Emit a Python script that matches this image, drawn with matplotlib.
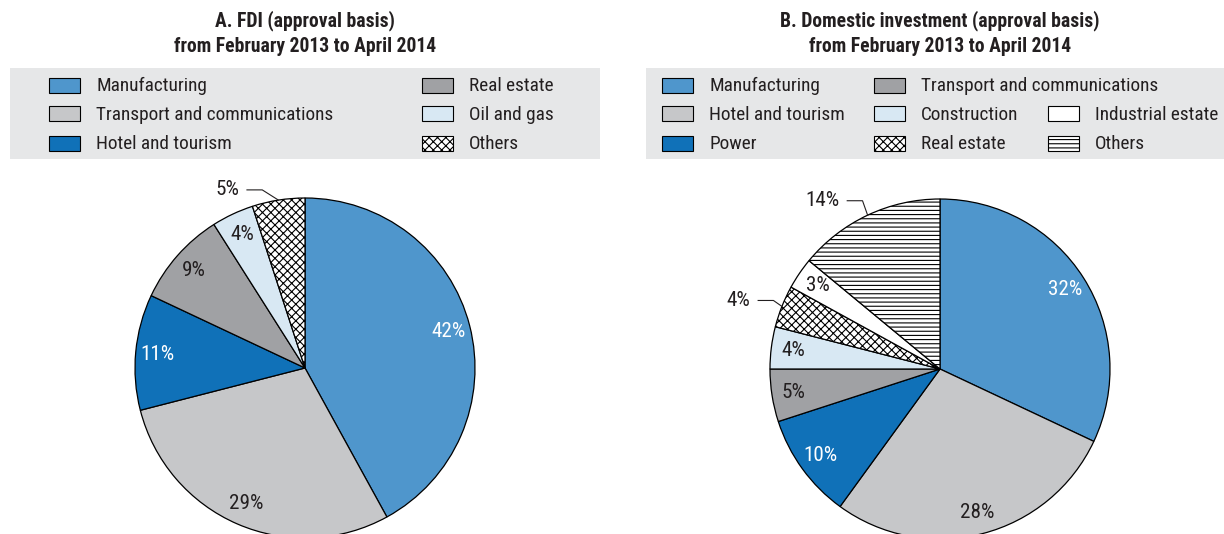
import matplotlib
matplotlib.use("Agg")
import matplotlib.pyplot as plt
import numpy as np
from matplotlib import font_manager
from matplotlib.patches import Rectangle

W, H = 1224, 534
R = 170  # pie radius in pixels
PAD = 1.05
TXT = "#231f20"

# pick a narrow face if one is installed, else fall back to Arial-like Liberation
names = {f.name for f in font_manager.fontManager.ttflist}
stretch = "normal"
if "Liberation Sans Narrow" in names:
    family = "Liberation Sans Narrow"
elif "Roboto Condensed" in names:
    family = "Roboto Condensed"
elif any(f.name == "DejaVu Sans" and "condensed" in str(f.stretch)
         for f in font_manager.fontManager.ttflist):
    family, stretch = "DejaVu Sans", "condensed"
else:
    family = "Liberation Sans"
plt.rcParams["font.family"] = [family, "DejaVu Sans"]
plt.rcParams["font.stretch"] = stretch
plt.rcParams["hatch.linewidth"] = 0.8

# Panel A: FDI
fdi_labels = ["Manufacturing", "Transport and communications", "Hotel and tourism",
              "Real estate", "Oil and gas", "Others"]
fdi_shares = [42, 29, 11, 9, 4, 5]
fdi_colors = ["#4f96cc", "#c6c7c9", "#1071b8", "#a0a1a4", "#d8e8f3", "white"]
fdi_hatches = ["", "", "", "", "", "xxxx"]

# Panel B: domestic investment
dom_labels = ["Manufacturing", "Hotel and tourism", "Power",
              "Transport and communications", "Construction", "Real estate",
              "Industrial estate", "Others"]
dom_shares = [32, 28, 10, 5, 4, 4, 3, 14]
dom_colors = ["#4f96cc", "#c6c7c9", "#1071b8", "#a0a1a4", "#d8e8f3",
              "white", "white", "white"]
dom_hatches = ["", "", "", "", "", "xxxx", "", "----"]

fig = plt.figure(figsize=(W / 100, H / 100), dpi=100)
renderer = fig.canvas.get_renderer()


def fit_size(text, target_px, **kw):
    t = fig.text(0, 0, text, fontsize=10, **kw)
    w = t.get_window_extent(renderer).width
    t.remove()
    return 10 * target_px / w


LEG_FS = fit_size("Transport and communications", 237)
TITLE_FS = fit_size("from February 2013 to April 2014", 262, fontweight="bold")
PCT_FS = fit_size("42%", 34)


def fx(x):
    return x / W


def fy(y):
    return 1 - y / H


def draw_pie(cx, cy, shares, colors, hatches, white_idx, outside):
    s = R * PAD
    ax = fig.add_axes([fx(cx - s), (H - cy - s) / H, 2 * s / W, 2 * s / H])
    wedges, _ = ax.pie(shares, colors=colors, hatch=hatches, startangle=90,
                       counterclock=False,
                       wedgeprops=dict(edgecolor="black", linewidth=0.9))
    ax.set_xlim(-PAD, PAD)
    ax.set_ylim(-PAD, PAD)
    ax.set_axis_off()
    for i, (w, v) in enumerate(zip(wedges, shares)):
        a = np.deg2rad((w.theta1 + w.theta2) / 2)
        if i in outside:
            # leader: rim point -> elbow -> short horizontal run -> label
            lift, dx = outside[i]
            rx, ry = np.cos(a), np.sin(a)
            ex, ey = rx - dx, ry + lift
            ax.plot([ex - 0.09, ex, rx], [ey, ey, ry], color=TXT, lw=0.8,
                    clip_on=False)
            ax.text(ex - 0.135, ey, f"{v}%", ha="right", va="center",
                    fontsize=PCT_FS, color=TXT)
        else:
            c = "white" if i in white_idx else TXT
            ax.text(0.87 * np.cos(a), 0.87 * np.sin(a), f"{v}%", ha="center",
                    va="center", fontsize=PCT_FS, color=c)
    return ax


def draw_legend(box, labels, colors, hatches, slots, cols):
    x0, x1 = box
    fig.patches.append(Rectangle((fx(x0), fy(159)), fx(x1 - x0), (159 - 68) / H,
                                 transform=fig.transFigure, facecolor="#e6e7e8",
                                 edgecolor="none", zorder=0))
    rows = [85, 114, 143]
    for lab, col, hat, (c, r) in zip(labels, colors, hatches, slots):
        x, y = cols[c], rows[r]
        fig.patches.append(Rectangle((fx(x), fy(y + 7.5)), fx(31), 15 / H,
                                     transform=fig.transFigure, facecolor=col,
                                     hatch=hat, edgecolor="black", lw=0.8))
        fig.text(fx(x + 47), fy(y + 1), lab, ha="left", va="center",
                 fontsize=LEG_FS, color=TXT)


def draw_title(cx, lines):
    for y, t in zip([21, 46], lines):
        fig.text(fx(cx), fy(y), t, ha="center", va="center", fontsize=TITLE_FS,
                 fontweight="bold", color=TXT)


draw_title(305, ["A. FDI (approval basis)", "from February 2013 to April 2014"])
draw_title(940, ["B. Domestic investment (approval basis)",
                 "from February 2013 to April 2014"])

draw_legend((10, 600), fdi_labels, fdi_colors, fdi_hatches,
            [(0, 0), (0, 1), (0, 2), (1, 0), (1, 1), (1, 2)], [49, 422])
draw_legend((646, 1224), dom_labels, dom_colors, dom_hatches,
            [(0, 0), (0, 1), (0, 2), (1, 0), (1, 1), (1, 2), (2, 1), (2, 2)],
            [662, 874, 1048])

draw_pie(305, 368, fdi_shares, fdi_colors, fdi_hatches, {0, 2},
         {5: (0.06, 0.095)})
draw_pie(940, 369, dom_shares, dom_colors, dom_hatches, {0, 2},
         {5: (0.035, 0.05), 7: (0.085, 0.03)})

fig.savefig("out.png", dpi=100)
